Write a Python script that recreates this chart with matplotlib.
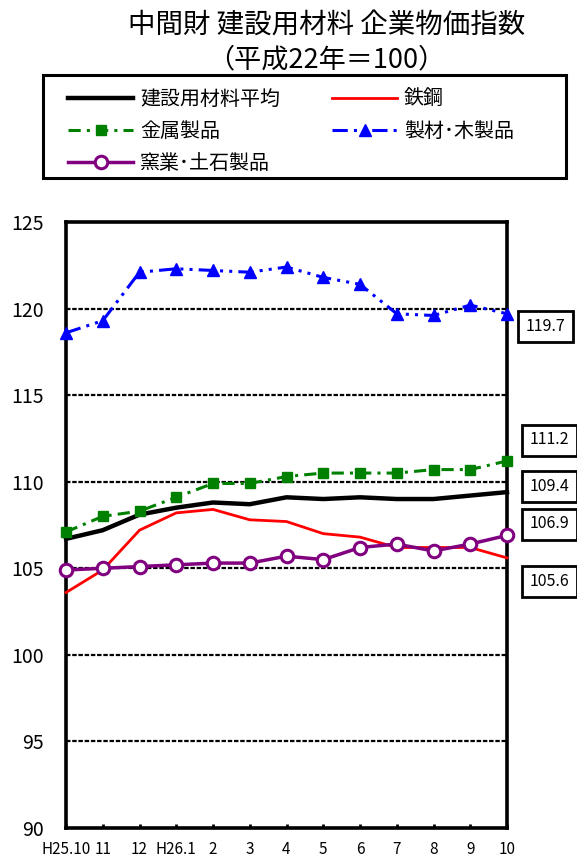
import matplotlib
matplotlib.use("Agg")
import matplotlib.pyplot as plt
from matplotlib.lines import Line2D
from matplotlib.patches import Rectangle

plt.rcParams['font.family'] = ['Noto Sans CJK JP', 'DejaVu Sans']

# ---- data ----
months = ["H25.10", "11", "12", "H26.1", "2", "3", "4", "5", "6", "7", "8", "9", "10"]
avg_vals = [106.7, 107.2, 108.1, 108.5, 108.8, 108.7, 109.1, 109.0, 109.1, 109.0, 109.0, 109.2, 109.4]
steel_vals = [103.6, 104.9, 107.2, 108.2, 108.4, 107.8, 107.7, 107.0, 106.8, 106.2, 106.2, 106.2, 105.6]
metal_vals = [107.1, 108.0, 108.3, 109.1, 109.9, 109.9, 110.3, 110.5, 110.5, 110.5, 110.7, 110.7, 111.2]
wood_vals = [118.6, 119.3, 122.1, 122.3, 122.2, 122.1, 122.4, 121.8, 121.4, 119.7, 119.6, 120.2, 119.7]
ceramic_vals = [104.9, 105.0, 105.1, 105.2, 105.3, 105.3, 105.7, 105.5, 106.2, 106.4, 106.0, 106.4, 106.9]
y_ticks = [90, 95, 100, 105, 110, 115, 120, 125]

series_names = ["建設用材料平均", "鉄鋼", "金属製品", "製材･木製品", "窯業･土石製品"]
title1 = "中間財 建設用材料 企業物価指数"
title2 = "（平成22年＝100）"

W, H = 577, 858
fig = plt.figure(figsize=(W / 100, H / 100), dpi=100)

def fx(px):
    return px / W

def fy(py):
    return 1 - py / H

ax = fig.add_axes([fx(66), fy(828), fx(507) - fx(66), fy(222) - fy(828)])

x = list(range(len(months)))

styles = [
    dict(color="black", lw=3.2, ls="-", marker=None),
    dict(color="#FF0000", lw=2.0, ls="-", marker=None),
    dict(color="#008000", lw=2.2, ls=(0, (4, 2, 1, 2)), marker="s", ms=6.5, mfc="#008000", mec="#008000"),
    dict(color="#0000FF", lw=2.2, ls=(0, (5, 2, 1, 2, 1, 2)), marker="^", ms=8, mfc="#0000FF", mec="#0000FF"),
    dict(color="#800080", lw=2.5, ls="-", marker="o", ms=9, mfc="white", mec="#800080", mew=2.2),
]
all_vals = [avg_vals, steel_vals, metal_vals, wood_vals, ceramic_vals]

handles = []
for vals, name, st in zip(all_vals, series_names, styles):
    kw = dict(color=st["color"], linewidth=st["lw"], linestyle=st["ls"], clip_on=False)
    if st["marker"]:
        kw.update(marker=st["marker"], markersize=st["ms"], markerfacecolor=st["mfc"],
                  markeredgecolor=st["mec"], markeredgewidth=st.get("mew", 1.0))
    ln, = ax.plot(x, vals, label=name, zorder=3, **kw)
    handles.append(ln)

ax.set_xlim(0, len(months) - 1)
ax.set_ylim(90, 125)
ax.set_yticks(y_ticks)
ax.set_yticklabels([str(v) for v in y_ticks], fontsize=14)
ax.set_xticks(x)
ax.set_xticklabels(months, fontsize=11)
ax.tick_params(axis="y", length=0, pad=16)
ax.tick_params(axis="x", direction="in", length=3, width=2, pad=9)

for v in y_ticks[1:-1]:
    ax.axhline(v, color="black", lw=1.6, ls=(0, (2, 0.8)), zorder=1)

for s in ax.spines.values():
    s.set_linewidth(2.6)
    s.set_color("black")

# titles
fig.text(fx(327), fy(25), title1, ha="center", va="center", fontsize=19.8)
fig.text(fx(326), fy(60), title2, ha="center", va="center", fontsize=19.5)

# legend
order = [0, 2, 4, 1, 3]
leg = fig.legend([handles[i] for i in order], [series_names[i] for i in order],
                 ncol=2, loc="upper left", bbox_to_anchor=(fx(68), fy(88.5)),
                 frameon=False, fontsize=14.4, handlelength=3.25, handletextpad=0.35,
                 columnspacing=2.6, labelspacing=0.57, borderpad=0, borderaxespad=0,
                 numpoints=1)
fig.add_artist(Rectangle((fx(43), fy(178)), fx(566) - fx(43), fy(75) - fy(178),
                         transform=fig.transFigure, fill=False, edgecolor="black", lw=2.2))

# end-value boxes
box_centers_y = [326.5, 440, 486.5, 524, 581.5]
box_left = [518, 522, 522, 522, 522]
end_vals = [wood_vals[-1], metal_vals[-1], avg_vals[-1], ceramic_vals[-1], steel_vals[-1]]
for cy, bl, v in zip(box_centers_y, box_left, end_vals):
    fig.add_artist(Rectangle((fx(bl), fy(cy + 15.5)), fx(55), 31 / H,
                             transform=fig.transFigure, fill=True, facecolor="white",
                             edgecolor="black", lw=2.0))
    fig.text(fx(bl + 27.5), fy(cy), f"{v:.1f}", ha="center", va="center", fontsize=11.5)

fig.savefig("out.png", dpi=100)
